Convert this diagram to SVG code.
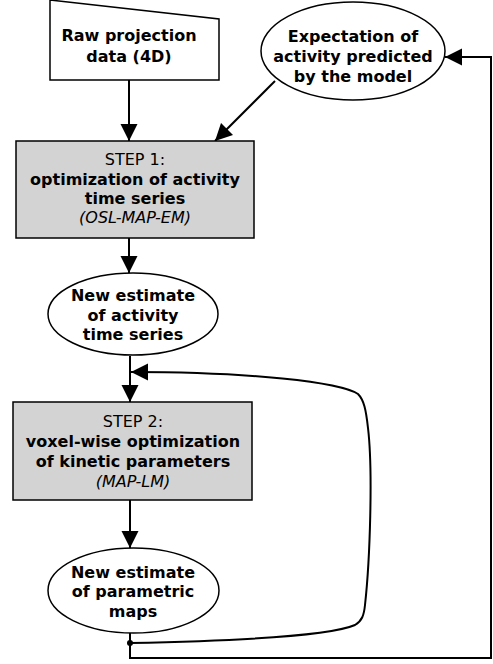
<svg xmlns="http://www.w3.org/2000/svg" width="493" height="664" viewBox="0 0 493 664">
<style>
text{font-family:"DejaVu Sans","Noto Sans",sans-serif;font-size:16px;text-anchor:middle;fill:#000}
.b{font-weight:bold}
.i{font-style:italic}
.shape{fill:#fff;stroke:#000;stroke-width:1.5}
.step{fill:#d3d3d3;stroke:#000;stroke-width:1.5}
.con{fill:none;stroke:#000;stroke-width:2}
</style>
<defs>
<marker id="ahb" viewBox="0 0 18 18" refX="18" refY="9" markerWidth="17" markerHeight="18" markerUnits="userSpaceOnUse" orient="auto">
<path d="M0,0 L18,9 L0,18 Z" fill="#000"/>
</marker>
</defs>
<g id="connectors">
<line class="con" x1="129" y1="80" x2="129" y2="141" marker-end="url(#ahb)"/>
<line class="con" x1="275" y1="81" x2="215" y2="141" marker-end="url(#ahb)"/>
<line class="con" x1="129" y1="238" x2="129" y2="273" marker-end="url(#ahb)"/>
<line class="con" x1="130" y1="356" x2="130" y2="402" marker-end="url(#ahb)"/>
<line class="con" x1="130" y1="500" x2="130" y2="548" marker-end="url(#ahb)"/>
<path class="con" d="M130,633 L130,658 L491,658 L491,57 L445,57" marker-end="url(#ahb)"/>
<path class="con" d="M130,643 C230,641 330,636 355,625 C362,621 364,615 365,605 C370,560 373,470 368,428 C366,410 364,400 358,394 C340,382 250,372 131,372" marker-end="url(#ahb)"/>
<circle cx="130" cy="643" r="3" fill="#000"/>
</g>
<g id="raw">
<path class="shape" d="M50,0 L219,19 L219,80 L50,80 Z"/>
<text class="b" x="129" y="41">Raw projection</text>
<text class="b" x="129" y="62">data (4D)</text>
</g>
<g id="expectation">
<ellipse class="shape" cx="353" cy="51" rx="92" ry="49"/>
<text class="b" x="353" y="42">Expectation of</text>
<text class="b" x="353" y="62">activity predicted</text>
<text class="b" x="353" y="82">by the model</text>
</g>
<g id="step1">
<rect class="step" x="16" y="141" width="238" height="97"/>
<text x="135" y="165">STEP 1:</text>
<text class="b" x="135" y="185">optimization of activity</text>
<text class="b" x="135" y="204">time series</text>
<text class="i" x="135" y="223">(OSL-MAP-EM)</text>
</g>
<g id="est1">
<ellipse class="shape" cx="133" cy="314" rx="85" ry="41"/>
<text class="b" x="133" y="301">New estimate</text>
<text class="b" x="133" y="321">of activity</text>
<text class="b" x="133" y="340">time series</text>
</g>
<g id="step2">
<rect class="step" x="13" y="402" width="239" height="98"/>
<text x="133" y="427">STEP 2:</text>
<text class="b" x="133" y="447">voxel-wise optimization</text>
<text class="b" x="133" y="467">of kinetic parameters</text>
<text class="i" x="133" y="487">(MAP-LM)</text>
</g>
<g id="est2">
<ellipse class="shape" cx="133.5" cy="590.5" rx="85.5" ry="42.5"/>
<text class="b" x="133" y="578">New estimate</text>
<text class="b" x="133" y="597">of parametric</text>
<text class="b" x="133" y="617">maps</text>
</g>
</svg>
